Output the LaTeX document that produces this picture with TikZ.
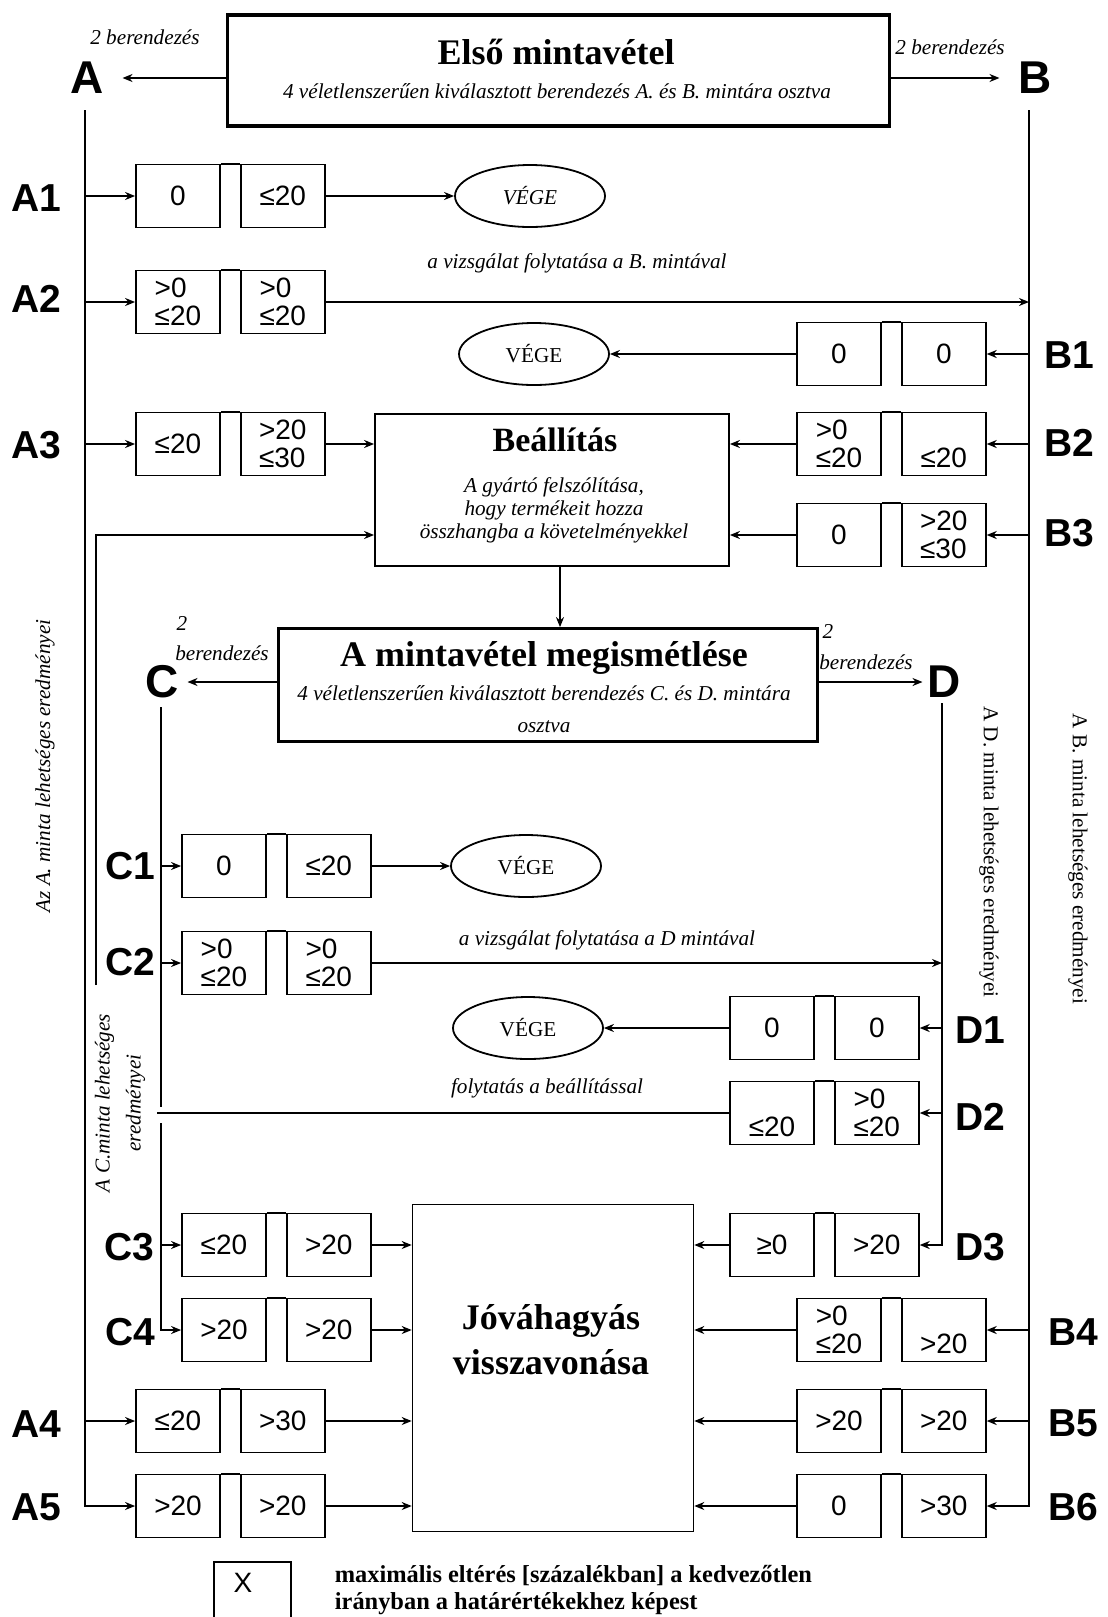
\documentclass[tikz,border=0pt]{standalone}
\usepackage{fontspec}
\setmainfont{Liberation Serif}
\newfontfamily\arialfont{Liberation Sans}
\usetikzlibrary{arrows.meta, positioning, shapes.geometric}
\newcommand{\valfont}{\arialfont\fontsize{14}{14}\selectfont}
\newcommand{\rowfont}{\arialfont\bfseries\fontsize{19.5}{20}\selectfont}
\newcommand{\letterfont}{\arialfont\bfseries\fontsize{23}{23}\selectfont}
\newcommand{\notefont}{\itshape\fontsize{10.6}{11.5}\selectfont}
\newcommand{\headfont}{\bfseries\fontsize{18}{22.5}\selectfont}

\begin{document}
\begin{tikzpicture}[
  x=0.5pt, y=-0.5pt,
  line width=0.9pt,
  valbox/.style={draw, minimum width=42pt, minimum height=31.5pt, inner sep=0pt,
                 align=left, font=\valfont},
  rowlbl/.style={font=\rowfont, inner sep=0pt},
  letter/.style={font=\letterfont, inner sep=0pt},
  vege/.style={draw, ellipse, minimum width=75pt, minimum height=31pt, inner sep=0pt,
               font=\fontsize{10.6}{11.5}\selectfont},
  note/.style={font=\notefont, inner sep=0pt, align=center},
  head/.style={font=\headfont, inner sep=0pt, align=center},
  bigbox/.style={draw, inner sep=0pt},
  arr/.style={-{Stealth[length=5pt, width=4pt]}},
]
\useasboundingbox (0,0) rectangle (1108,1617);

% first sampling
\node[bigbox, line width=1.8pt, minimum width=331pt, minimum height=55.5pt] (Elso) at (558.5,70.5) {};
\node[head] (ElsoT) at (556,52) {Első mintavétel};
\node[note] (ElsoS) at (557,91) {4 véletlenszerűen kiválasztott berendezés A. és B. mintára osztva};
\node[letter] (A) at (87,78) {A};
\node[letter] (B) at (1035,78) {B};
\node[note] (bA) at (145,37) {2 berendezés};
\node[note] (bB) at (950,47) {2 berendezés};
\draw[arr, shorten >=9pt] (Elso.west |- A) -- (A);
\draw[arr, shorten >=9pt] (Elso.east |- B) -- (B);

\coordinate (Atop) at (85,110);
\coordinate (Btop) at (1029,110);

% A sample
\node[rowlbl] (A1) at (36,198) {A1};
\node[rowlbl] (A2) at (36,299) {A2};
\node[rowlbl] (A3) at (36,445) {A3};
\node[rowlbl] (A4) at (36,1424) {A4};
\node[rowlbl] (A5) at (36,1507) {A5};
\node[valbox] (a11) at (178,196) {0};
\node[valbox, right=9.5pt of a11] (a12) {≤20};
\node[valbox] (a21) at (178,302) {>0\\≤20};
\node[valbox, right=9.5pt of a21] (a22) {>0\\≤20};
\node[valbox] (a31) at (178,444) {≤20};
\node[valbox, right=9.5pt of a31] (a32) {>20\\≤30};
\node[valbox] (a41) at (178,1421) {≤20};
\node[valbox, right=9.5pt of a41] (a42) {>30};
\node[valbox] (a51) at (178,1506) {>20};
\node[valbox, right=9.5pt of a51] (a52) {>20};

% B sample
\node[rowlbl] (B1) at (1069,355) {B1};
\node[rowlbl] (B2) at (1069,443) {B2};
\node[rowlbl] (B3) at (1069,533) {B3};
\node[rowlbl] (B4) at (1073,1332) {B4};
\node[rowlbl] (B5) at (1073,1423) {B5};
\node[rowlbl] (B6) at (1073,1507) {B6};
\node[valbox] (b11) at (839,354) {0};
\node[valbox, right=9.5pt of b11] (b12) {0};
\node[valbox] (b21) at (839,444) {>0\\≤20};
\node[valbox, right=9.5pt of b21] (b22) {\phantom{>0}\\≤20};
\node[valbox] (b31) at (839,535) {0};
\node[valbox, right=9.5pt of b31] (b32) {>20\\≤30};
\node[valbox] (b41) at (839,1330) {>0\\≤20};
\node[valbox, right=9.5pt of b41] (b42) {\phantom{0}\\>20};
\node[valbox] (b51) at (839,1421) {>20};
\node[valbox, right=9.5pt of b51] (b52) {>20};
\node[valbox] (b61) at (839,1506) {0};
\node[valbox, right=9.5pt of b61] (b62) {>30};

% end states
\node[vege, font=\notefont] (V1) at (530,196) {VÉGE};
\node[vege] (V2) at (534,354) {VÉGE};
\node[note] (contB) at (577,263) {a vizsgálat folytatása a B. mintával};

% adjustment
\node[bigbox, minimum width=177pt, minimum height=76pt] (Beall) at (552,490) {};
\node[head, font=\bfseries\fontsize{17}{20}\selectfont] (BeallT) at (555,440) {Beállítás};
\node[note] (BeallS) at (554,510) {A gyártó felszólítása,\\hogy termékeit hozza\\összhangba a követelményekkel};

% repeated sampling
\node[bigbox, line width=1.4pt, minimum width=269.5pt, minimum height=56.5pt] (Megis) at (548,685) {};
\node[head] (MegisT) at (544,658) {A mintavétel megismétlése};
\node[note, font=\itshape\fontsize{10.6}{16}\selectfont] (MegisS) at (544,709)
  {4 véletlenszerűen kiválasztott berendezés C. és D. mintára\\osztva};
\node[letter] (C) at (162,682) {C};
\node[letter] (D) at (944,682) {D};
\node[note] (twoC) at (182,623) {2};
\node[note] (bC) at (222,653) {berendezés};
\node[note] (twoD) at (828,631) {2};
\node[note] (bD) at (866,662) {berendezés};
\draw[arr] ([xshift=4pt]Beall.south) -- ([xshift=4pt]Beall.south |- Megis.north);
\draw[arr, shorten >=4pt] (Megis.west |- C) -- (C);
\draw[arr, shorten >=2pt] (Megis.east |- D) -- (D);

\coordinate (Ctop) at (161,707);
\coordinate (Dtop) at (942,703);
\coordinate (cgapA) at (161,1107);
\coordinate (cgapB) at (161,1123);
\coordinate (fbtail) at (96,985);
\coordinate (fbend) at (157,1117);

% C sample
\node[rowlbl] (C1) at (130,866) {C1};
\node[rowlbl] (C2) at (130,962) {C2};
\node[rowlbl] (C3) at (129,1247) {C3};
\node[rowlbl] (C4) at (130,1332) {C4};
\node[valbox] (c11) at (224,866) {0};
\node[valbox, right=9.5pt of c11] (c12) {≤20};
\node[valbox] (c21) at (224,963) {>0\\≤20};
\node[valbox, right=9.5pt of c21] (c22) {>0\\≤20};
\node[valbox] (c31) at (224,1245) {≤20};
\node[valbox, right=9.5pt of c31] (c32) {>20};
\node[valbox] (c41) at (224,1330) {>20};
\node[valbox, right=9.5pt of c41] (c42) {>20};

% D sample
\node[rowlbl] (D1) at (980,1030) {D1};
\node[rowlbl] (D2) at (980,1117) {D2};
\node[rowlbl] (D3) at (980,1247) {D3};
\node[valbox] (d11) at (772,1028) {0};
\node[valbox, right=9.5pt of d11] (d12) {0};
\node[valbox] (d21) at (772,1113) {\phantom{>0}\\≤20};
\node[valbox, right=9.5pt of d21] (d22) {>0\\≤20};
\node[valbox] (d31) at (772,1245) {≥0};
\node[valbox, right=9.5pt of d31] (d32) {>20};

\node[vege] (V3) at (526,866) {VÉGE};
\node[vege] (V4) at (528,1028) {VÉGE};
\node[note] (contD) at (607,940) {a vizsgálat folytatása a D mintával};
\node[note] (contE) at (547,1088) {folytatás a beállítással};

% withdrawal
\node[bigbox, line width=0.8pt, minimum width=140.5pt, minimum height=163.5pt] (Jova) at (553,1368) {};
\node[head] (JovaT) at (551,1340) {Jóváhagyás\\visszavonása};

% side captions
\node[note, rotate=90] (resA) at (45,766) {Az A. minta lehetséges eredményei};
\node[note, rotate=90, font=\itshape\fontsize{10.6}{15.5}\selectfont] (resC) at (120,1103)
  {A C.minta lehetséges\\eredményei};
\node[note, rotate=-90, font=\fontsize{10.6}{11.5}\selectfont] (resD) at (989,852) {A D. minta lehetséges eredményei};
\node[note, rotate=-90, font=\fontsize{10.6}{11.5}\selectfont] (resB) at (1078,859) {A B. minta lehetséges eredményei};

% legend
\node[anchor=north west, minimum width=37.5pt, minimum height=27.5pt, inner sep=0pt] (legbox) at (214,1562) {};
\node[font=\valfont, inner sep=0pt] (legx) at (243,1583) {X};
\draw (legbox.south west) |- (legbox.north east) -- (legbox.south east);
\node[anchor=west, align=left, inner sep=0pt, font=\bfseries\fontsize{12.2}{13.5}\selectfont] (legtxt) at (334,1590)
  {maximális eltérés [százalékban] a kedvezőtlen\\irányban a határértékekhez képest};

% joined tops of the box pairs
\draw (a11.north east) -- (a12.north west) (a21.north east) -- (a22.north west)
      (a31.north east) -- (a32.north west) (a41.north east) -- (a42.north west)
      (a51.north east) -- (a52.north west) (b11.north east) -- (b12.north west)
      (b21.north east) -- (b22.north west) (b31.north east) -- (b32.north west)
      (b41.north east) -- (b42.north west) (b51.north east) -- (b52.north west)
      (b61.north east) -- (b62.north west) (c11.north east) -- (c12.north west)
      (c21.north east) -- (c22.north west) (c31.north east) -- (c32.north west)
      (c41.north east) -- (c42.north west) (d11.north east) -- (d12.north west)
      (d21.north east) -- (d22.north west) (d31.north east) -- (d32.north west);

% trunks
\draw[arr] (Atop) |- (a51);
\draw[arr] (Btop) |- (b62);
\draw (Ctop) -- (cgapA);
\draw[arr] (cgapB) |- (c41);
\draw[arr] (Dtop) |- (d32);
\draw[arr] (fbtail) |- (Beall.west |- b31);

% A rows
\draw[arr] (Atop |- a11) -- (a11);
\draw[arr] (Atop |- a21) -- (a21);
\draw[arr] (Atop |- a31) -- (a31);
\draw[arr] (Atop |- a41) -- (a41);
\draw[arr] (a12) -- (V1);
\draw[arr] (a22) -- (a22 -| Btop);
\draw[arr] (a32) -- (Beall.west |- a32);
\draw[arr] (a42) -- (Jova.west |- a42);
\draw[arr] (a52) -- (Jova.west |- a52);

% B rows
\draw[arr] (Btop |- b12) -- (b12);
\draw[arr] (Btop |- b22) -- (b22);
\draw[arr] (Btop |- b32) -- (b32);
\draw[arr] (Btop |- b42) -- (b42);
\draw[arr] (Btop |- b52) -- (b52);
\draw[arr] (b11) -- (V2);
\draw[arr] (b21) -- (Beall.east |- b21);
\draw[arr] (b31) -- (Beall.east |- b31);
\draw[arr] (b41) -- (Jova.east |- b41);
\draw[arr] (b51) -- (Jova.east |- b51);
\draw[arr] (b61) -- (Jova.east |- b61);

% C rows
\draw[arr] (Ctop |- c11) -- (c11);
\draw[arr] (Ctop |- c21) -- (c21);
\draw[arr] (Ctop |- c31) -- (c31);
\draw[arr] (c12) -- (V3);
\draw[arr] (c22) -- (c22 -| Dtop);
\draw[arr] (c32) -- (Jova.west |- c32);
\draw[arr] (c42) -- (Jova.west |- c42);

% D rows
\draw[arr] (Dtop |- d12) -- (d12);
\draw[arr] (Dtop |- d22) -- (d22);
\draw[arr] (d11) -- (V4);
\draw (d21) -- (d21 -| fbend);
\draw[arr] (d31) -- (Jova.east |- d31);
\end{tikzpicture}
\end{document}
